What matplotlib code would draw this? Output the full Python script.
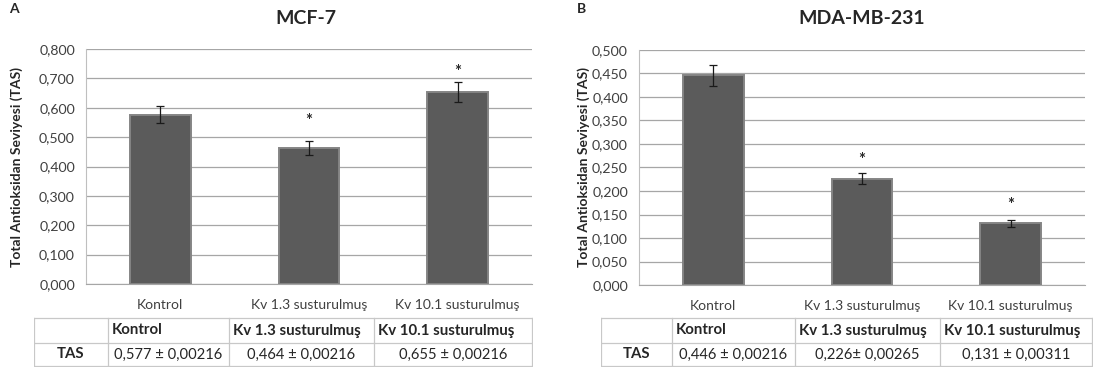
import matplotlib
matplotlib.use("Agg")
import matplotlib.pyplot as plt
import numpy as np

plt.rcParams['font.family'] = ['Lato', 'DejaVu Sans']

# ---- data ----
categories = ["Kontrol", "Kv 1.3 susturulmuş", "Kv 10.1 susturulmuş"]
mcf_values = [0.577, 0.464, 0.655]
mcf_errors = [0.029, 0.024, 0.034]
mcf_stars = [None, 0.555, 0.72]
mcf_table = ["0,577 ± 0,00216", "0,464 ± 0,00216", "0,655 ± 0,00216"]
mcf_yticks = [0.0, 0.1, 0.2, 0.3, 0.4, 0.5, 0.6, 0.7, 0.8]

mda_values = [0.446, 0.226, 0.131]
mda_errors = [0.023, 0.012, 0.007]
mda_stars = [None, 0.265, 0.17]
mda_table = ["0,446 ± 0,00216", "0,226± 0,00265", "0,131 ± 0,00311"]
mda_yticks = [0.0, 0.05, 0.1, 0.15, 0.2, 0.25, 0.3, 0.35, 0.4, 0.45, 0.5]

ylabel = "Total Antioksidan Seviyesi (TAS)"
row_label = "TAS"

W, H = 1095, 371
fig = plt.figure(figsize=(W / 100, H / 100), dpi=100)
fig.patch.set_facecolor('white')


def px_axes(left, top, right, bottom):
    return fig.add_axes([left / W, 1 - bottom / H, (right - left) / W, (bottom - top) / H])


def fmt(v):
    return f"{v:.3f}".replace('.', ',')


def draw_chart(box, values, errors, stars, yticks, title, title_x, letter, letter_x, ylab_x):
    ax = px_axes(*box)
    x = np.arange(len(categories))
    ax.bar(x, values, width=0.41, color='#5b5b5b', edgecolor='#858585', linewidth=1.4, zorder=3)
    ax.errorbar(x, values, yerr=errors, fmt='none', ecolor='#1a1a1a', elinewidth=0.9,
                capsize=3, capthick=0.9, zorder=4)
    for xi, s in zip(x, stars):
        if s is not None:
            ax.text(xi, s, "*", ha='center', va='center', fontsize=12, fontweight='bold', color='#262626')
    ax.set_xlim(-0.5, len(categories) - 0.5)
    ax.set_ylim(yticks[0], yticks[-1])
    ax.set_yticks(yticks)
    ax.set_yticklabels([fmt(v) for v in yticks], fontsize=10.2, color='#404040')
    ax.set_xticks(x)
    ax.set_xticklabels(categories, fontsize=10, color='#404040')
    ax.tick_params(axis='y', length=0, pad=8)
    ax.tick_params(axis='x', length=0, pad=11)
    ax.yaxis.grid(True, color='#a6a6a6', linewidth=0.9, zorder=0)
    ax.set_axisbelow(True)
    for sp in ['top', 'right']:
        ax.spines[sp].set_visible(False)
    ax.spines['left'].set_color('#bfbfbf')
    ax.spines['bottom'].set_color('#a6a6a6')
    fig.text(title_x / W, 1 - 18 / H, title, ha='center', va='center', fontsize=14, fontweight='bold', color='#262626')
    fig.text(letter_x / W, 1 - 9 / H, letter, ha='left', va='center', fontsize=10, fontweight='bold', color='#262626')
    fig.text(ylab_x / W, 1 - 167 / H, ylabel, rotation=90, ha='center', va='center', fontsize=10,
             fontweight='bold', color='#262626')
    return ax


def draw_table(cols, top, mid, bottom, values):
    left, right = cols[0], cols[-1]
    ax = px_axes(left, top - 1, right + 1, bottom + 1)
    ax.set_xlim(left, right + 1)
    ax.set_ylim(bottom + 1, top - 1)
    ax.axis('off')
    lc = '#c8c8c8'
    for y in (top, mid, bottom):
        ax.plot([left, right], [y, y], color=lc, lw=0.9)
    for c in cols:
        ax.plot([c, c], [top, bottom], color=lc, lw=0.9)
    for i, name in enumerate(categories):
        ax.text(cols[i + 1] + 4, (top + mid) / 2, name, ha='left', va='center', fontsize=10.8,
                fontweight='bold', color='#262626')
        ax.text((cols[i + 1] + cols[i + 2]) / 2, (mid + bottom) / 2, values[i], ha='center', va='center',
                fontsize=10.6, color='#262626')
    ax.text((cols[0] + cols[1]) / 2, (mid + bottom) / 2, row_label, ha='center', va='center', fontsize=10.8,
            fontweight='bold', color='#262626')


draw_chart((86, 49, 532, 284), mcf_values, mcf_errors, mcf_stars, mcf_yticks, "MCF-7", 306, "A", 9, 17)
draw_chart((639, 50, 1085, 285), mda_values, mda_errors, mda_stars, mda_yticks, "MDA-MB-231", 862, "B", 577, 584)

draw_table([34, 108, 229, 374, 532], 318, 343, 366, mcf_table)
draw_table([601, 672, 795, 940, 1092], 318, 343, 366, mda_table)

fig.savefig("out.png", dpi=100, facecolor='white')
